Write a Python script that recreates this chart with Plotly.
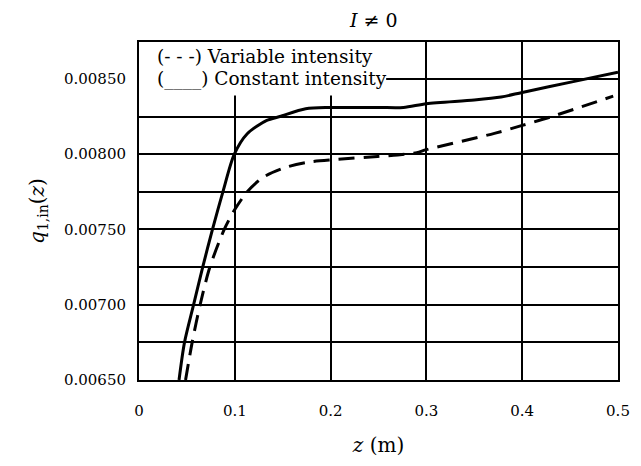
import plotly.graph_objects as go

# Inlet profile q_1,in(z) along the channel, I != 0
z_constant = [0.0418, 0.0475, 0.057, 0.0665, 0.0767, 0.0876, 0.0995, 0.113, 0.1334,
              0.147, 0.174, 0.2, 0.25, 0.276, 0.3, 0.35, 0.378, 0.4, 0.452, 0.5]
q_constant = [0.00650, 0.00675, 0.00700, 0.00725, 0.00750, 0.00775, 0.00800, 0.008136,
              0.008224, 0.00825, 0.008302, 0.00831, 0.00831, 0.00831, 0.008335, 0.00836,
              0.00838, 0.00841, 0.00848, 0.008544]

z_variable = [0.0486, 0.0555, 0.0638, 0.074, 0.089, 0.0995, 0.113, 0.130, 0.154, 0.178,
              0.205, 0.249, 0.27, 0.29, 0.3, 0.371, 0.4, 0.429, 0.495]
q_variable = [0.00650, 0.00675, 0.00700, 0.00725, 0.00750, 0.007627, 0.00775, 0.007848,
              0.007914, 0.007948, 0.007964, 0.007985, 0.007995, 0.00801, 0.00803,
              0.008138, 0.008191, 0.008246, 0.008385]

y_tickvals = [0.0065, 0.0070, 0.0075, 0.0080, 0.0085]
y_ticktext = ["0.00650", "0.00700", "0.00750", "0.00800", "0.00850"]
x_tickvals = [0, 0.1, 0.2, 0.3, 0.4, 0.5]
x_ticktext = ["0", "0.1", "0.2", "0.3", "0.4", "0.5"]

legend_lines = ["(- - -) Variable intensity", "(____) Constant intensity"]
legend_y = [0.008649, 0.008496]

FONT = "DejaVu Serif"

fig = go.Figure()
fig.add_trace(go.Scatter(x=z_constant, y=q_constant, mode="lines",
                         line=dict(color="black", width=3, shape="spline", smoothing=0.8),
                         showlegend=False))
fig.add_trace(go.Scatter(x=z_variable, y=q_variable, mode="lines",
                         line=dict(color="black", width=3, dash="16px,9px",
                                   shape="spline", smoothing=0.8),
                         showlegend=False))

# white key panel in the upper-left corner, over the grid
fig.add_shape(type="rect", xref="x", yref="y", x0=0.0, x1=0.258, y0=0.00839, y1=0.00875,
              fillcolor="white", line=dict(width=0), layer="between")

for txt, ty in zip(legend_lines, legend_y):
    fig.add_annotation(x=0.0163, y=ty, xref="x", yref="y",
                       text=txt, showarrow=False, xanchor="left", yanchor="middle",
                       font=dict(family=FONT, size=18.5, color="black"))

fig.add_annotation(x=0.49, y=1.0, xref="paper", yref="paper", yshift=22,
                   yanchor="middle", text="<i>I</i> \u2260 0", showarrow=False,
                   font=dict(family=FONT, size=19, color="black"))

fig.update_layout(
    width=641, height=466,
    margin=dict(l=139, r=11, t=42, b=86),
    paper_bgcolor="white", plot_bgcolor="white",
    font=dict(family=FONT, size=15, color="black"),
    xaxis=dict(range=[0, 0.5], tickvals=x_tickvals, ticktext=x_ticktext,
               showgrid=True, gridcolor="black", gridwidth=2,
               showline=True, linecolor="black", linewidth=2, mirror=True,
               zeroline=False, ticks="", ticklabelstandoff=16,
               title=dict(text="<i>z</i> (m)", standoff=19,
                          font=dict(family=FONT, size=20))),
    yaxis=dict(range=[0.0065, 0.008745], tickvals=y_tickvals, ticktext=y_ticktext,
               showgrid=True, gridcolor="black", gridwidth=2,
               minor=dict(dtick=0.00025, tick0=0.0065, showgrid=True,
                          gridcolor="black", gridwidth=2),
               showline=True, linecolor="black", linewidth=2, mirror=True,
               zeroline=False, ticks="", ticklabelstandoff=8,
               title=dict(text="<i>q</i><sub>1,in</sub>(<i>z</i>)", standoff=14,
                          font=dict(family=FONT, size=20))),
)

fig.write_html("out.html")
